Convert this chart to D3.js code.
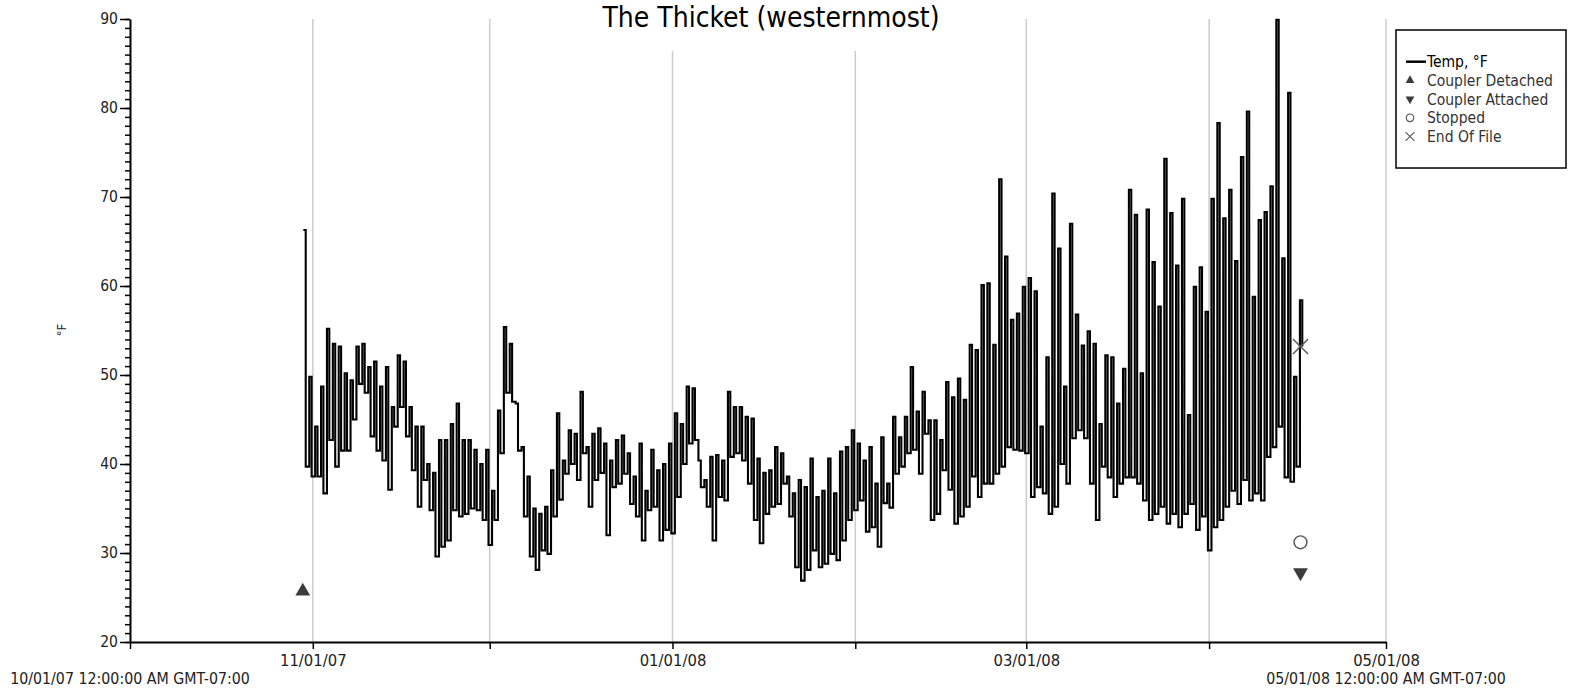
<!DOCTYPE html>
<html>
<head>
<meta charset="utf-8">
<script src="https://cdn.jsdelivr.net/npm/d3@7"></script>
<style>
  body { margin: 0; background: #fff; }
  text { font-family: "DejaVu Sans Condensed", "DejaVu Sans", sans-serif; font-stretch: condensed; }
</style>
</head>
<body>
<div id="chart"></div>
<script>
// Data ///////////////////////////////////////////////
const chartTitle = 'The Thicket (westernmost)'
const seriesName = 'Temp, °F'
const firstDay = '2007-10-30'

// one daytime peak and one night low per day, °F, from 10/30/07 to 04/16/08
const dailyHigh = [
  66.3, 49.8, 44.2, 48.7, 55.2, 53.5, 53.2, 50.2, 49.4, 53.2,
  53.5, 50.9, 51.5, 48.7, 50.9, 46.4, 52.2, 51.5, 46.4, 44.2,
  44.2, 40.0, 39.0, 42.7, 42.7, 44.5, 46.8, 42.7, 42.7, 41.6,
  40.0, 41.6, 37.0, 46.0, 55.4, 53.5, 46.8, 41.9, 38.6, 35.0,
  34.4, 35.2, 39.3, 45.7, 40.4, 43.8, 43.4, 48.1, 41.9, 43.4,
  44.0, 42.3, 40.4, 42.7, 43.2, 41.2, 38.6, 42.3, 37.0, 41.6,
  39.3, 40.0, 42.3, 45.7, 44.5, 48.7, 48.5, 40.4, 38.2, 40.8,
  41.0, 40.4, 48.1, 46.4, 46.4, 45.3, 45.1, 40.6, 39.0, 39.3,
  41.9, 41.2, 38.6, 36.7, 38.2, 37.4, 40.6, 36.3, 37.0, 40.6,
  36.7, 41.4, 41.9, 43.8, 42.3, 40.4, 41.9, 37.8, 43.0, 37.8,
  45.3, 43.0, 45.3, 50.9, 45.9, 48.1, 44.9, 44.9, 42.7, 49.2,
  47.5, 49.6, 47.2, 53.4, 52.8, 60.1, 60.3, 53.4, 72.0, 63.3,
  56.2, 56.9, 59.9, 60.9, 59.4, 44.2, 52.0, 70.4, 64.2, 48.7,
  67.0, 56.8, 53.3, 54.9, 53.5, 44.5, 52.2, 52.0, 46.8, 50.7,
  70.8, 68.0, 50.2, 68.6, 62.7, 57.7, 74.3, 68.2, 62.3, 69.8,
  45.5, 59.9, 62.1, 57.1, 69.8, 78.3, 67.6, 70.8, 62.8, 74.5,
  79.6, 58.8, 67.4, 68.3, 71.2, 89.9, 63.1, 81.7, 49.8, 58.4
]
const dailyLow = [
  39.7, 38.6, 38.6, 36.7, 42.7, 39.7, 41.5, 41.5, 45.0, 49.0,
  48.0, 43.1, 41.5, 40.4, 37.1, 44.2, 46.4, 43.1, 39.3, 35.2,
  38.2, 34.8, 29.6, 30.7, 31.4, 34.8, 34.1, 34.4, 35.0, 34.8,
  33.7, 30.9, 33.7, 41.2, 48.0, 47.0, 41.5, 34.1, 29.6, 28.1,
  30.3, 29.9, 34.1, 36.0, 38.9, 40.0, 38.2, 41.2, 35.2, 38.2,
  39.0, 32.0, 37.4, 37.8, 38.9, 35.5, 34.1, 31.4, 34.8, 35.2,
  31.4, 32.6, 32.2, 36.3, 40.0, 42.3, 42.7, 37.4, 35.2, 31.4,
  36.3, 35.9, 40.8, 41.2, 40.4, 37.8, 33.7, 31.1, 34.4, 35.2,
  35.5, 37.8, 34.1, 28.4, 26.9, 28.1, 30.3, 28.4, 28.8, 29.9,
  29.2, 31.4, 33.7, 34.8, 35.9, 32.4, 32.9, 30.7, 35.6, 35.1,
  38.9, 39.7, 41.2, 41.6, 38.9, 43.4, 33.7, 34.4, 39.3, 37.1,
  33.3, 34.1, 35.2, 38.6, 36.3, 37.8, 37.8, 38.9, 39.7, 41.9,
  41.6, 41.5, 41.2, 36.3, 37.4, 36.7, 34.4, 35.2, 40.0, 37.8,
  42.9, 43.8, 42.9, 37.8, 33.7, 39.7, 38.5, 36.3, 37.8, 38.5,
  38.5, 37.8, 35.9, 33.7, 34.4, 35.2, 33.3, 34.4, 32.9, 34.4,
  35.5, 32.6, 34.1, 30.3, 32.9, 33.7, 35.2, 37.0, 35.5, 38.2,
  35.9, 36.7, 35.9, 40.8, 41.9, 44.2, 38.5, 38.0, 39.7, 53.2
]

// logger events shown as symbols
const eventNames = ['Coupler Detached', 'Coupler Attached', 'Stopped', 'End Of File']
const eventTimes = ['2007-10-30T07:15', '2008-04-16T12:00', '2008-04-16T12:00', '2008-04-16T12:00']
const eventValues = [25.7, 27.8, 31.2, 53.2]

// axis text
const yTickLabels = [20, 30, 40, 50, 60, 70, 80, 90]
const xTickLabels = ['11/01/07', '01/01/08', '03/01/08', '05/01/08']
const xStartLabel = '10/01/07 12:00:00 AM GMT-07:00'
const xEndLabel = '05/01/08 12:00:00 AM GMT-07:00'
const yAxisLabel = '°F'
/////////////////////////////////////////////////////////////////////////////

async function draw() {
    const parseDay = d3.utcParse('%Y-%m-%d')
    const parseTime = d3.utcParse('%Y-%m-%dT%H:%M')
    const start = parseDay(firstDay)

    // high around mid-morning, low in the evening
    const dataset = []
    dailyHigh.forEach((h, i) => {
        const day = d3.utcDay.offset(start, i)
        dataset.push({ date: d3.utcMinute.offset(day, 576), value: h })
        dataset.push({ date: d3.utcMinute.offset(day, 1152), value: dailyLow[i] })
    })

    const events = eventNames.map((name, i) => ({
        name: name,
        date: parseTime(eventTimes[i]),
        value: eventValues[i]
    }))

    const xAccessor = (d) => d.date
    const yAccessor = (d) => d.value

    // Dimensions ////////////////////////////////////////////////////////////
    let dimensions = {
        width: 1578,
        height: 690,
        margin: {
            top: 19,
            bottom: 48,
            left: 130,
            right: 192
        }
    }
    dimensions.ctrWidth = dimensions.width - dimensions.margin.left - dimensions.margin.right
    dimensions.ctrHeight = dimensions.height - dimensions.margin.top - dimensions.margin.bottom

    // Image /////////////////////////////////////////////////////////////////
    const svg = d3.select('#chart')
        .append('svg')
        .attr('width', dimensions.width)
        .attr('height', dimensions.height)
        .style('display', 'block')

    const ctr = svg.append('g')
        .attr('transform', `translate(${dimensions.margin.left}, ${dimensions.margin.top})`)

    // Scales ////////////////////////////////////////////////////////////////
    const xScale = d3.scaleUtc()
        .domain([parseDay('2007-10-01'), parseDay('2008-05-01')])
        .range([0, dimensions.ctrWidth])

    const yScale = d3.scaleLinear()
        .domain([20, 90])
        .range([dimensions.ctrHeight, 0])

    // Grid lines at every month /////////////////////////////////////////////
    const months = d3.utcMonth.range(parseDay('2007-11-01'), parseDay('2008-05-02'))
    ctr.append('g')
        .selectAll('line')
        .data(months)
        .join('line')
        .attr('x1', d => xScale(d))
        .attr('x2', d => xScale(d))
        .attr('y1', 0)
        .attr('y2', dimensions.ctrHeight)
        .attr('stroke', '#cccccc')
        .attr('stroke-width', 1.5)

    // Title (white block behind it hides the grid) ///////////////////////////
    const titleX = 771
    svg.append('rect')
        .attr('x', titleX - 195)
        .attr('y', 0)
        .attr('width', 390)
        .attr('height', 51)
        .attr('fill', '#fff')

    svg.append('text')
        .attr('x', titleX)
        .attr('y', 27)
        .attr('text-anchor', 'middle')
        .style('font-size', '28px')
        .attr('fill', '#000')
        .text(chartTitle)

    // Line //////////////////////////////////////////////////////////////////
    const lineGenerator = d3.line()
        .x(d => xScale(xAccessor(d)))
        .y(d => yScale(yAccessor(d)))
        .curve(d3.curveStepAfter)

    ctr.append('path')
        .datum(dataset)
        .attr('d', lineGenerator)
        .attr('fill', 'none')
        .attr('stroke', '#000')
        .attr('stroke-width', 2.1)

    // Event symbols /////////////////////////////////////////////////////////
    const symbolFor = {
        'Coupler Detached': { type: d3.symbolTriangle, size: 95, rotate: 0, fill: '#3c3c3c', stroke: 'none' },
        'Coupler Attached': { type: d3.symbolTriangle, size: 95, rotate: 180, fill: '#3c3c3c', stroke: 'none' },
        'Stopped': { type: d3.symbolCircle, size: 130, rotate: 0, fill: '#fff', stroke: '#555' },
        'End Of File': { type: d3.symbolTimes, size: 150, rotate: 0, fill: 'none', stroke: '#555' }
    }

    ctr.append('g')
        .selectAll('path')
        .data(events)
        .join('path')
        .attr('d', d => d3.symbol(symbolFor[d.name].type, symbolFor[d.name].size)())
        .attr('transform', d => `translate(${xScale(d.date)}, ${yScale(d.value)}) rotate(${symbolFor[d.name].rotate})`)
        .attr('fill', d => symbolFor[d.name].fill)
        .attr('stroke', d => symbolFor[d.name].stroke)
        .attr('stroke-width', 1.4)

    // Axes //////////////////////////////////////////////////////////////////
    // y minor ticks
    ctr.append('g')
        .call(d3.axisLeft(yScale).tickValues(d3.range(20, 91, 1)).tickSize(5).tickSizeOuter(0).tickFormat(''))
        .call(g => g.selectAll('line').attr('stroke', '#000').attr('stroke-width', 1.5))
        .call(g => g.select('.domain').attr('stroke', '#000').attr('stroke-width', 2))

    // y major ticks with labels
    ctr.append('g')
        .call(d3.axisLeft(yScale).tickValues(yTickLabels).tickSize(10).tickPadding(2).tickSizeOuter(0))
        .call(g => g.select('.domain').remove())
        .call(g => g.selectAll('line').attr('stroke', '#000').attr('stroke-width', 1.5))
        .call(g => g.selectAll('text')
            .attr('fill', '#222')
            .style('font-size', '15.5px')
            .style('font-family', '"DejaVu Sans Condensed", "DejaVu Sans", sans-serif'))

    // y label
    svg.append('text')
        .attr('transform', `translate(66, 330) rotate(-90)`)
        .attr('text-anchor', 'middle')
        .style('font-size', '13px')
        .attr('fill', '#222')
        .text(yAxisLabel)

    // x axis, tick at every month, label every other month
    const fmt = d3.utcFormat('%m/%d/%y')
    const xTicks = d3.utcMonth.range(parseDay('2007-10-01'), parseDay('2008-05-02'))
    ctr.append('g')
        .attr('transform', `translate(0, ${dimensions.ctrHeight})`)
        .call(d3.axisBottom(xScale).tickValues(xTicks).tickSize(7).tickPadding(5).tickSizeOuter(0)
            .tickFormat(d => xTickLabels.includes(fmt(d)) ? fmt(d) : ''))
        .call(g => g.select('.domain').attr('stroke', '#000').attr('stroke-width', 2))
        .call(g => g.selectAll('line').attr('stroke', '#000').attr('stroke-width', 1.5))
        .call(g => g.selectAll('text')
            .attr('fill', '#222')
            .style('font-size', '16.5px')
            .style('font-family', '"DejaVu Sans Condensed", "DejaVu Sans", sans-serif'))

    // full date labels under both ends
    ctr.append('g')
        .selectAll('text')
        .data([[xTicks[0], xStartLabel], [xTicks[xTicks.length - 1], xEndLabel]])
        .join('text')
        .attr('x', d => xScale(d[0]))
        .attr('y', dimensions.ctrHeight + 42)
        .attr('text-anchor', 'middle')
        .attr('fill', '#222')
        .style('font-size', '15.8px')
        .text(d => d[1])

    // Legend ////////////////////////////////////////////////////////////////
    const legend = svg.append('g')
        .attr('transform', 'translate(1396, 30)')

    legend.append('rect')
        .attr('width', 170)
        .attr('height', 138)
        .attr('fill', '#fff')
        .attr('stroke', '#000')
        .attr('stroke-width', 1.5)

    const legendItems = [seriesName].concat(eventNames)
    const rows = legend.selectAll('g')
        .data(legendItems)
        .join('g')
        .attr('transform', (d, i) => `translate(14, ${31.7 + i * 18.7})`)

    rows.filter((d, i) => i === 0)
        .append('line')
        .attr('x1', -4)
        .attr('x2', 16)
        .attr('stroke', '#000')
        .attr('stroke-width', 2.5)

    rows.filter((d, i) => i > 0)
        .append('path')
        .attr('d', d => d3.symbol(symbolFor[d].type, symbolFor[d].size * 0.35)())
        .attr('transform', d => `rotate(${symbolFor[d].rotate})`)
        .attr('fill', d => symbolFor[d].fill)
        .attr('stroke', d => symbolFor[d].stroke)
        .attr('stroke-width', 1.1)

    rows.append('text')
        .attr('x', 17)
        .attr('dy', '0.35em')
        .attr('fill', (d, i) => i === 0 ? '#000' : '#333')
        .style('font-size', '15.5px')
        .text(d => d)
}

draw()
</script>
</body>
</html>
